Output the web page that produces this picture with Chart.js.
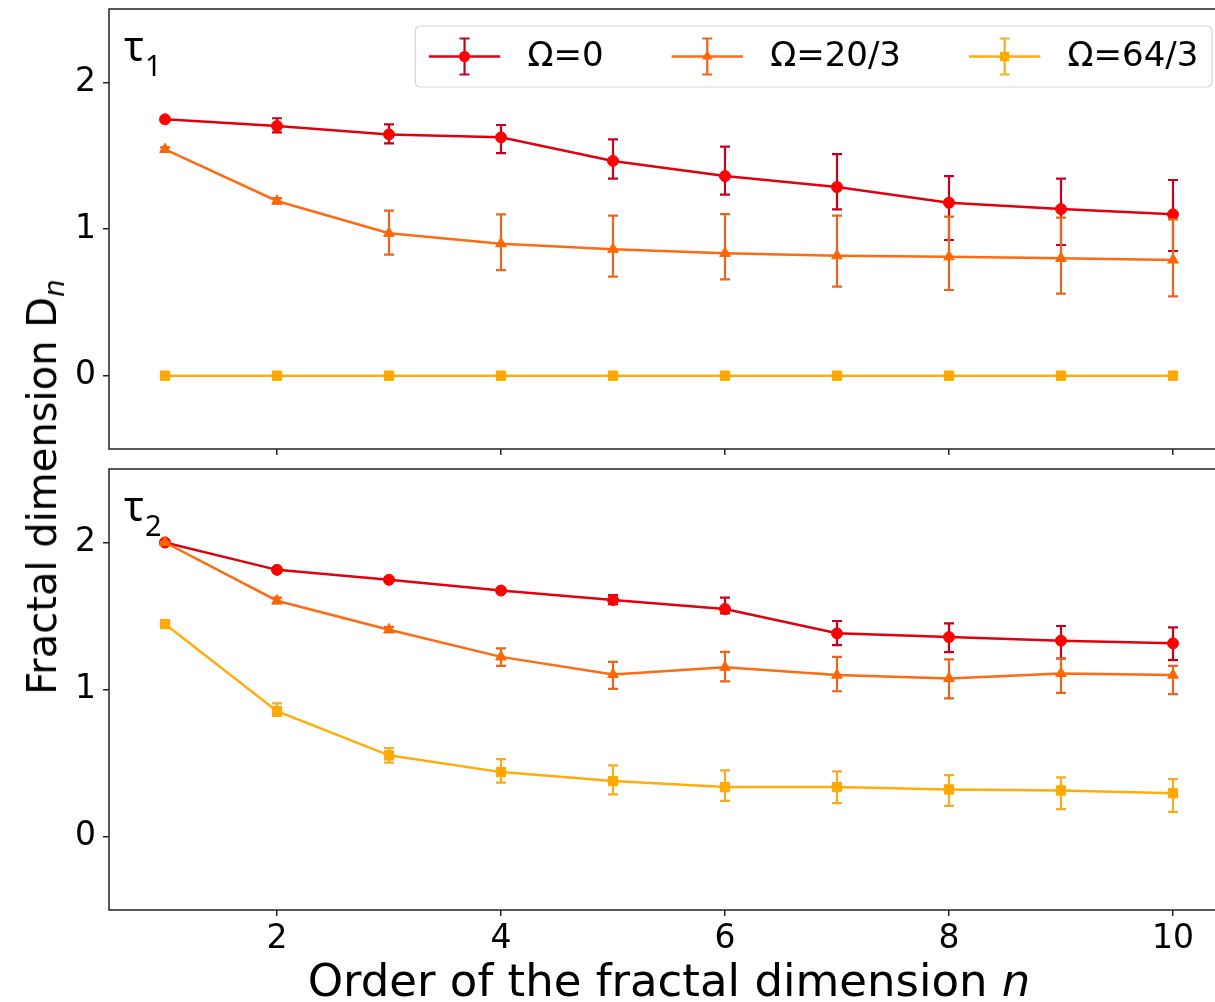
<!DOCTYPE html>
<html>
<head>
<meta charset="utf-8">
<script src="https://cdn.jsdelivr.net/npm/chart.js@4.4.1/dist/chart.umd.min.js"></script>
<style>
  html, body { margin: 0; padding: 0; overflow: hidden; background: #fff; }
  #wrap { position: relative; width: 1215px; height: 1002px; overflow: hidden; background: #fff; }
  canvas { position: absolute; left: 0; }
  #c1 { top: 0; }
  #c2 { top: 460px; }
  .title { position: absolute; font-family: "DejaVu Sans", sans-serif; color: #000; white-space: nowrap;
           transform-origin: center center; line-height: 1; }
  .title sub { font-size: 0.7em; vertical-align: -0.28em; line-height: 0; font-style: italic; }
  #xtitle { left: 669px; top: 980px; font-size: 45px; transform: translate(-50%, -50%); }
  #ytitle { left: 42px; top: 487px; font-size: 40px; transform: translate(-50%, -50%) rotate(-90deg); }
</style>
</head>
<body>
<div id="wrap">
  <canvas id="c1" width="1240" height="460"></canvas>
  <canvas id="c2" width="1240" height="542"></canvas>
  <div class="title" id="ytitle">Fractal dimension D<sub>n</sub></div>
  <div class="title" id="xtitle">Order of the fractal dimension <i>n</i></div>
</div>
<script>
// ---- data ----
const nOrder = [1, 2, 3, 4, 5, 6, 7, 8, 9, 10];
const xTickValues = [2, 4, 6, 8, 10];
const yTickValues = [0, 1, 2];
const legendLabels = ['Ω=0', 'Ω=20/3', 'Ω=64/3'];

// τ1 panel: mean D_n with lower / upper error bounds
const tau1Omega0    = [1.748, 1.702, 1.645, 1.625, 1.464, 1.361, 1.286, 1.179, 1.136, 1.100];
const tau1Omega0Lo  = [1.740, 1.659, 1.584, 1.518, 1.343, 1.234, 1.134, 0.925, 0.891, 0.850];
const tau1Omega0Hi  = [1.756, 1.755, 1.714, 1.709, 1.611, 1.561, 1.511, 1.361, 1.343, 1.334];

const tau1Omega20   = [1.543, 1.191, 0.971, 0.900, 0.862, 0.834, 0.818, 0.811, 0.800, 0.789];
const tau1Omega20Lo = [1.530, 1.172, 0.825, 0.720, 0.675, 0.657, 0.607, 0.584, 0.559, 0.541];
const tau1Omega20Hi = [1.556, 1.210, 1.125, 1.100, 1.091, 1.102, 1.091, 1.084, 1.077, 1.066];

const tau1Omega64   = [0, 0, 0, 0, 0, 0, 0, 0, 0, 0];
const tau1Omega64Lo = [0, 0, 0, 0, 0, 0, 0, 0, 0, 0];
const tau1Omega64Hi = [0, 0, 0, 0, 0, 0, 0, 0, 0, 0];

// τ2 panel
const tau2Omega0    = [2.000, 1.814, 1.746, 1.673, 1.609, 1.548, 1.382, 1.357, 1.332, 1.314];
const tau2Omega0Lo  = [1.995, 1.798, 1.732, 1.658, 1.580, 1.518, 1.302, 1.254, 1.211, 1.200];
const tau2Omega0Hi  = [2.005, 1.830, 1.760, 1.688, 1.643, 1.625, 1.466, 1.450, 1.432, 1.423];

const tau2Omega20   = [2.000, 1.604, 1.407, 1.222, 1.102, 1.152, 1.098, 1.075, 1.109, 1.098];
const tau2Omega20Lo = [1.995, 1.585, 1.390, 1.161, 1.004, 1.055, 0.988, 0.939, 0.977, 0.968];
const tau2Omega20Hi = [2.005, 1.625, 1.425, 1.280, 1.188, 1.256, 1.222, 1.205, 1.211, 1.161];

const tau2Omega64   = [1.445, 0.852, 0.552, 0.438, 0.377, 0.336, 0.336, 0.320, 0.313, 0.295];
const tau2Omega64Lo = [1.435, 0.820, 0.502, 0.366, 0.286, 0.243, 0.227, 0.209, 0.186, 0.168];
const tau2Omega64Hi = [1.455, 0.905, 0.602, 0.527, 0.484, 0.450, 0.443, 0.418, 0.402, 0.390];

// ---- styling per series ----
const seriesStyle = [
  { line: '#e0000f', fill: '#ff0000', err: '#c8001c', shape: 'circle',   r: 5.5 },
  { line: '#ff6a13', fill: '#ff6600', err: '#e8651f', shape: 'triangle', r: 6.2 },
  { line: '#ffad0a', fill: '#ffa800', err: '#f5ad1e', shape: 'rect',     r: 6.6 }
];
const FONT = '"DejaVu Sans", sans-serif';

function makeDataset(i, vals, lo, hi) {
  const s = seriesStyle[i];
  return {
    label: legendLabels[i],
    data: nOrder.map((n, k) => ({ x: n, y: vals[k] })),
    errLo: lo, errHi: hi, errColor: s.err,
    borderColor: s.line, backgroundColor: s.fill,
    pointBackgroundColor: s.fill, pointBorderColor: s.fill,
    pointStyle: s.shape, pointRadius: s.r, pointBorderWidth: 1,
    borderWidth: 2.5, tension: 0, order: 3 - i
  };
}

// vertical error bars with caps, drawn under each series' line
const errorBars = {
  id: 'errorBars',
  beforeDatasetDraw(chart, args) {
    const ds = chart.data.datasets[args.index];
    const ctx = chart.ctx, xs = chart.scales.x, ys = chart.scales.y;
    ctx.save();
    ctx.strokeStyle = ds.errColor;
    ctx.lineWidth = 2.2;
    ds.data.forEach((p, k) => {
      if (ds.errHi[k] - ds.errLo[k] < 1e-6) return;
      const px = xs.getPixelForValue(p.x);
      const y1 = ys.getPixelForValue(ds.errLo[k]);
      const y2 = ys.getPixelForValue(ds.errHi[k]);
      ctx.beginPath();
      ctx.moveTo(px, y1); ctx.lineTo(px, y2);
      ctx.moveTo(px - 5, y1); ctx.lineTo(px + 5, y1);
      ctx.moveTo(px - 5, y2); ctx.lineTo(px + 5, y2);
      ctx.stroke();
    });
    ctx.restore();
  }
};

// full frame around the plotting area
const frame = {
  id: 'frame',
  afterDraw(chart) {
    const a = chart.chartArea, ctx = chart.ctx;
    ctx.save();
    ctx.strokeStyle = '#222';
    ctx.lineWidth = 1.5;
    ctx.strokeRect(a.left, a.top, a.right - a.left, a.bottom - a.top);
    ctx.restore();
  }
};

// panel tag such as τ1 in the upper-left corner
const panelTag = {
  id: 'panelTag',
  afterDraw(chart, args, opts) {
    const a = chart.chartArea, ctx = chart.ctx;
    ctx.save();
    ctx.fillStyle = '#000';
    ctx.textBaseline = 'alphabetic';
    ctx.font = '41px "Noto Sans", sans-serif';
    ctx.fillText(opts.main, a.left + 15, a.top + 52);
    const w = ctx.measureText(opts.main).width;
    ctx.font = '29px "Noto Sans", sans-serif';
    ctx.fillText(opts.sub, a.left + 15 + w + 1, a.top + 67);
    ctx.restore();
  }
};

function drawMarker(ctx, shape, x, y, r) {
  ctx.beginPath();
  if (shape === 'circle') {
    ctx.arc(x, y, r, 0, Math.PI * 2);
  } else if (shape === 'triangle') {
    ctx.moveTo(x, y - r);
    ctx.lineTo(x + r * 0.866, y + r * 0.5);
    ctx.lineTo(x - r * 0.866, y + r * 0.5);
    ctx.closePath();
  } else {
    const h = r * Math.SQRT1_2;
    ctx.rect(x - h, y - h, 2 * h, 2 * h);
  }
  ctx.fill();
}

// legend with line + errorbar handles, upper right
const legendBox = {
  id: 'legendBox',
  afterDraw(chart) {
    const ctx = chart.ctx, a = chart.chartArea;
    const fs = 34;
    ctx.save();
    ctx.font = fs + 'px ' + FONT;
    const dsets = chart.data.datasets;
    const pad = 0.4 * fs, handle = 2.1 * fs, gap = 0.8 * fs, colSp = 2 * fs;
    const widths = dsets.map(d => ctx.measureText(d.label).width);
    const total = 2 * pad + widths.reduce((s, w) => s + handle + gap + w, 0) + colSp * (widths.length - 1);
    const right = a.right - 0.5 * fs, top = a.top + 0.5 * fs, h = 61;
    const left = right - total;
    ctx.beginPath();
    ctx.roundRect(left, top, total, h, 5);
    ctx.fillStyle = 'rgba(255,255,255,0.85)';
    ctx.fill();
    ctx.strokeStyle = '#d6d6d6';
    ctx.lineWidth = 1.2;
    ctx.stroke();
    const cy = top + h / 2;
    let x = left + pad;
    dsets.forEach((d, i) => {
      const s = seriesStyle[i];
      const mx = x + handle / 2;
      ctx.strokeStyle = d.borderColor; ctx.lineWidth = 2.5;
      ctx.beginPath(); ctx.moveTo(x, cy); ctx.lineTo(x + handle, cy); ctx.stroke();
      ctx.strokeStyle = d.errColor; ctx.lineWidth = 2.2;
      ctx.beginPath();
      ctx.moveTo(mx, cy - 18); ctx.lineTo(mx, cy + 18);
      ctx.moveTo(mx - 5, cy - 18); ctx.lineTo(mx + 5, cy - 18);
      ctx.moveTo(mx - 5, cy + 18); ctx.lineTo(mx + 5, cy + 18);
      ctx.stroke();
      ctx.fillStyle = s.fill;
      drawMarker(ctx, s.shape, mx, cy, s.r);
      ctx.fillStyle = '#000';
      ctx.textBaseline = 'middle';
      ctx.fillText(d.label, x + handle + gap, cy + 1);
      x += handle + gap + widths[i] + colSp;
    });
    ctx.restore();
  }
};

function makeOptions(showXLabels, xAxisHeight, tag) {
  return {
    responsive: false,
    animation: false,
    layout: { padding: { left: 0, top: 9, right: 11, bottom: 0 } },
    plugins: { legend: { display: false }, tooltip: { enabled: false }, panelTag: tag },
    scales: {
      x: {
        type: 'linear', min: 0.5, max: 10.5,
        afterBuildTicks: s => { s.ticks = xTickValues.map(v => ({ value: v })); },
        afterFit: s => { s.height = xAxisHeight; s.paddingLeft = 0; s.paddingRight = 0; },
        border: { display: false },
        grid: { drawOnChartArea: false, drawTicks: true, tickLength: 6, color: '#222', lineWidth: 1.5 },
        ticks: { display: showXLabels, color: '#000', font: { family: FONT, size: 33 }, padding: 4, maxRotation: 0 }
      },
      y: {
        type: 'linear', min: -0.5, max: 2.5,
        afterBuildTicks: s => { s.ticks = yTickValues.map(v => ({ value: v })); },
        afterFit: s => { s.width = 109; s.paddingTop = 0; s.paddingBottom = 0; },
        border: { display: false },
        grid: { drawOnChartArea: false, drawTicks: true, tickLength: 6, color: '#222', lineWidth: 1.5 },
        ticks: { color: '#000', font: { family: FONT, size: 33 }, padding: 7 }
      }
    }
  };
}

new Chart(document.getElementById('c1'), {
  type: 'line',
  data: { datasets: [
    makeDataset(0, tau1Omega0, tau1Omega0Lo, tau1Omega0Hi),
    makeDataset(1, tau1Omega20, tau1Omega20Lo, tau1Omega20Hi),
    makeDataset(2, tau1Omega64, tau1Omega64Lo, tau1Omega64Hi)
  ] },
  options: makeOptions(false, 11, { main: 'τ', sub: '1' }),
  plugins: [errorBars, frame, panelTag, legendBox]
});

new Chart(document.getElementById('c2'), {
  type: 'line',
  data: { datasets: [
    makeDataset(0, tau2Omega0, tau2Omega0Lo, tau2Omega0Hi),
    makeDataset(1, tau2Omega20, tau2Omega20Lo, tau2Omega20Hi),
    makeDataset(2, tau2Omega64, tau2Omega64Lo, tau2Omega64Hi)
  ] },
  options: makeOptions(true, 92, { main: 'τ', sub: '2' }),
  plugins: [errorBars, frame, panelTag]
});
</script>
</body>
</html>
